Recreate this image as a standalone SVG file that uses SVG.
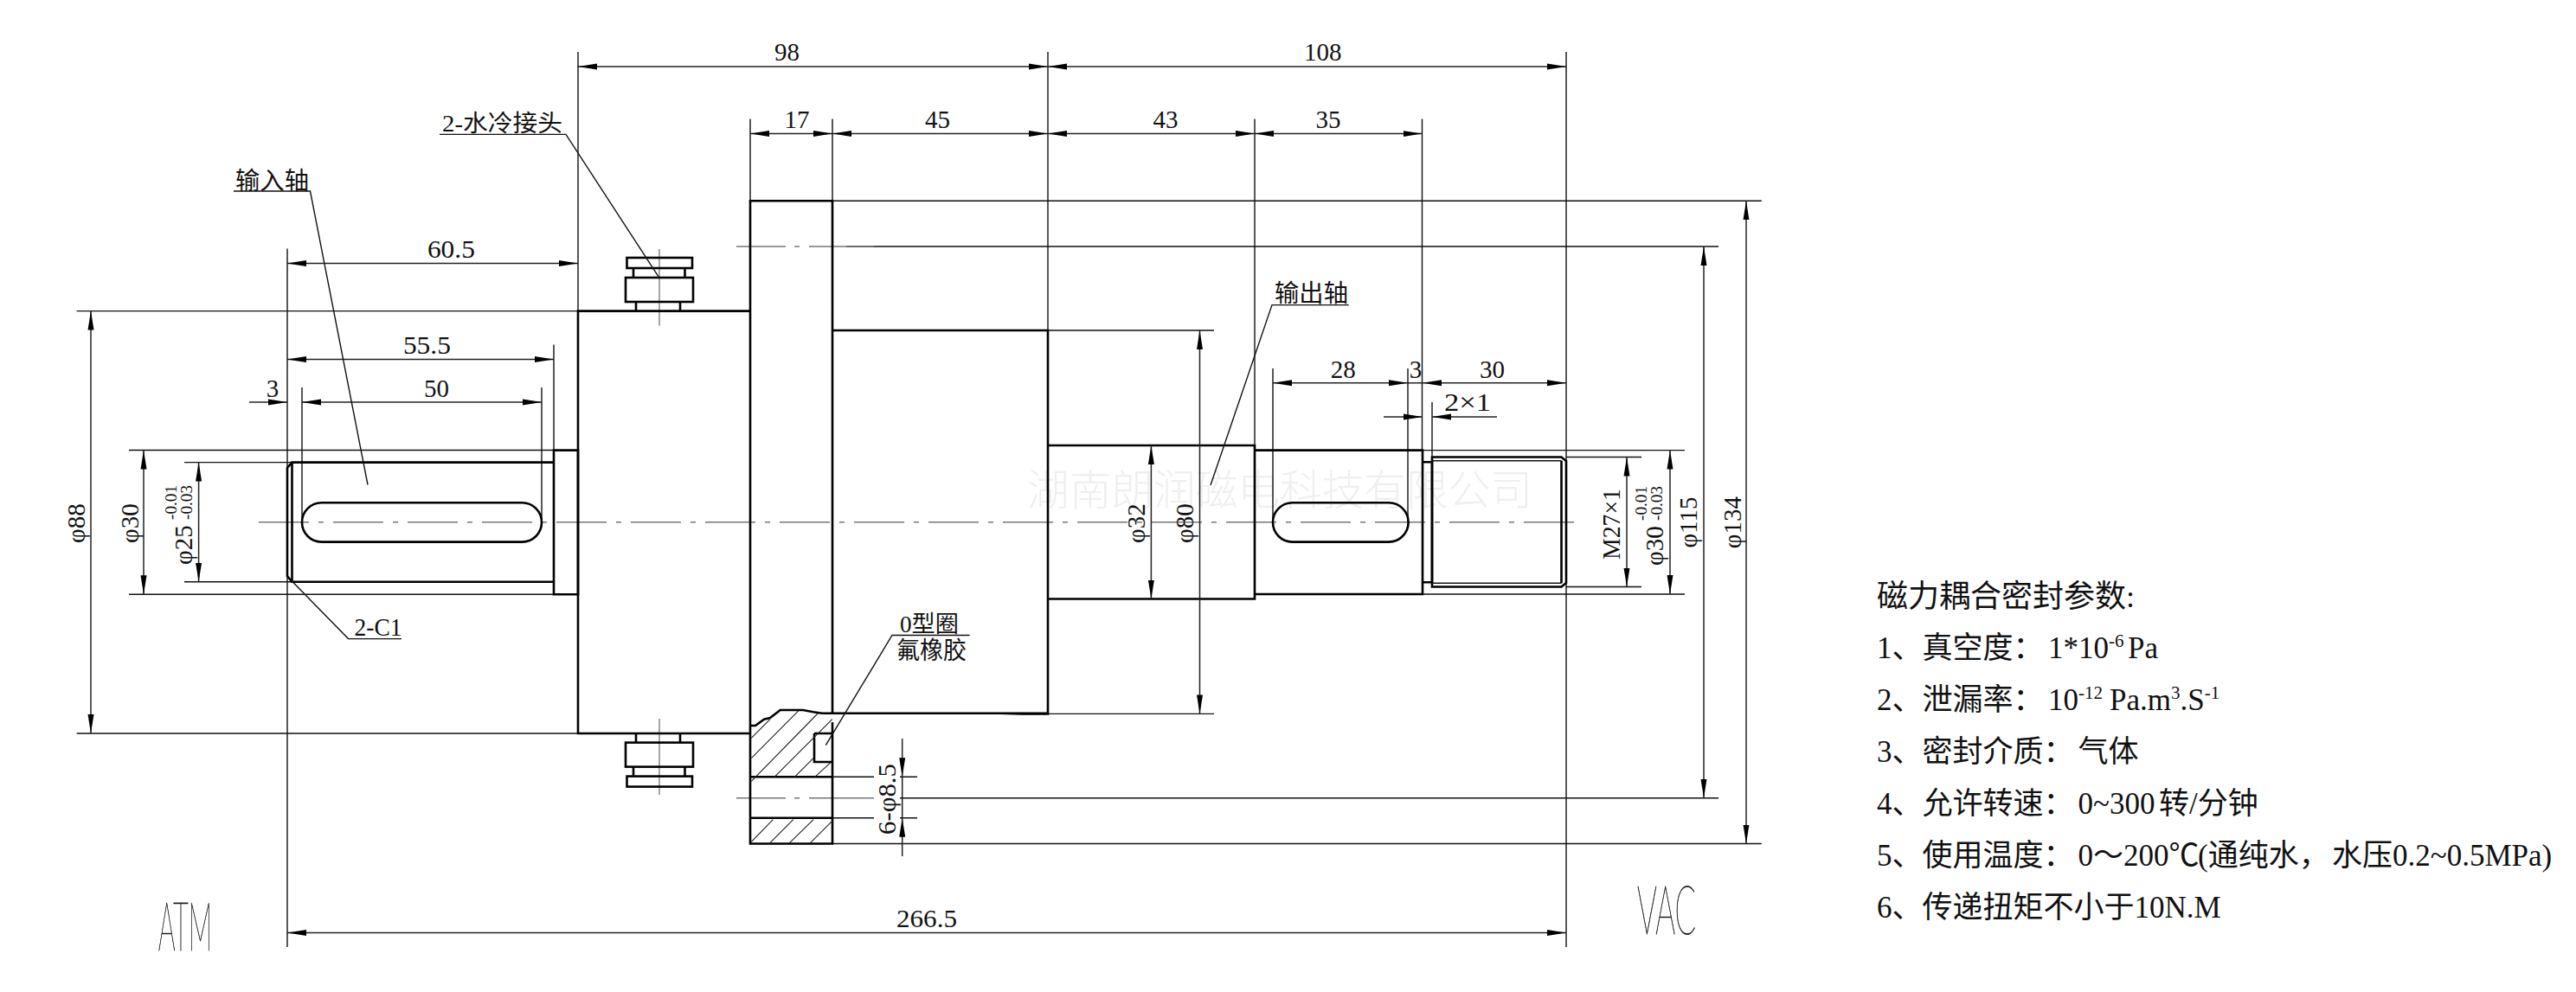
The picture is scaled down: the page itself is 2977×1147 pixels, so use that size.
<svg xmlns="http://www.w3.org/2000/svg" width="2977" height="1147" viewBox="0 0 2977 1147">
<style>
text{font-family:"Liberation Serif","Noto Sans CJK SC",serif;fill:#111}
.d{font-size:29px;text-anchor:middle}
.s{font-size:19px;text-anchor:middle}
.note{font-size:35px}
.sup{font-size:21px}
.big{font-family:Lato,"Liberation Sans",sans-serif;font-weight:100;font-size:78px;fill:#222;stroke:#222;stroke-width:.9}
.wm{font-family:"Noto Sans CJK SC",sans-serif;font-size:48.6px;fill:#efefef;font-weight:300}
.k{fill:none;stroke:#000;stroke-width:2.6;stroke-linejoin:miter}
.th{fill:none;stroke:#111;stroke-width:1.4}
.h{fill:none;stroke:#222;stroke-width:1.1}
.c{fill:none;stroke:#777;stroke-width:1.6;stroke-dasharray:58 11 6 11}
.cs{fill:none;stroke:#888;stroke-width:1.5}
.dim{fill:none;stroke:#222;stroke-width:1.5;marker-start:url(#a);marker-end:url(#a)}
.one{fill:none;stroke:#222;stroke-width:1.5;marker-end:url(#a)}
</style>
<defs>
<marker id="a" markerUnits="userSpaceOnUse" markerWidth="24" markerHeight="8" refX="22" refY="4" orient="auto-start-reverse"><path d="M0,.5L22,4L0,7.5Z" fill="#000"/></marker>
<g id="fit">
<rect x="724.5" y="298" width="75.5" height="12"/>
<path d="M732,310V321M791.5,310V321"/>
<rect x="723" y="321" width="78" height="28"/>
<path d="M735,349V359M786,349V359"/>
</g>
</defs>
<text class="wm" x="1187" y="584" textLength="584" lengthAdjust="spacingAndGlyphs">湖南朗润磁电科技有限公司</text>

<g id="extensions" class="th">
<path d="M668,60V359.6M1211,60V515M1810,60V1095M332,287.5V1095M867,137.6V232M962,137.6V232M1450,137.6V520M1643.5,137.6V520"/>
<path d="M349,448V603M626,448V603M640,398.5V520M1471,426V603M1627,426V603M1655,465V529"/>
<path d="M88.7,359.6H668M88.7,848H668M149,520.5H640M149,687.3H640M213,534.6H337M213,672.7H337"/>
<path d="M962,232.3H2035.8M962,975.5H2035.8M978,285H1986M1040,922.8H1986"/>
<path d="M1211,382H1403M1211,825.4H1403M1644,520.6H1947M1644,687H1947M1810,528.5H1897M1810,678.5H1897"/>
<path d="M962,898.3H1010M1040,898.3H1060M962,945.7H1010M1040,945.7H1060"/>
</g>

<g id="centerlines">
<path class="c" d="M299,603.8H1828"/>
<path class="c" style="stroke-dasharray:57 10 6 11 80" d="M851,285H1010"/>
<path class="c" style="stroke-dasharray:57 10 6 11 80" d="M851,922.8H1010"/>
<path class="cs" d="M762,288V376.6M762,831V919"/>
</g>

<g id="body">
<path class="k" d="M668,359.6H867V848H668ZM867,232.3H962V975.5H867Z"/>
<path class="k" d="M962,382H1211V825.4H962"/>
<path class="k" d="M1211,515H1450V692.5H1211M1450,520.6H1644V687H1450M1644,534.3H1655V673.3H1644"/>
<path class="k" d="M1655,528.5H1804.5L1810,533V674L1804.5,678.5H1655ZM1804.5,532.7V674.3"/>
<path class="th" d="M1655,532.7H1804.5M1655,674.3H1804.5"/>
<path class="k" d="M640,520.6H668V687.3H640ZM337.5,534.6H640V672.7H337.5ZM337.5,534.6L332,541V666L337.5,672.7"/>
<rect class="k" x="349" y="581.3" width="277" height="45.3" rx="22.6"/>
<rect class="k" x="1471" y="581.3" width="156.6" height="45.3" rx="22.6"/>
</g>

<g id="flange-section">
<path class="k" style="fill:#fff" d="M867,839H873L883,831.7L890,830L901.7,821H928L940,823.3L950,824.7H1211"/>
<path class="k" d="M941,848V881H962M941,848H962M867,898.3H962M867,945.7H962"/>
<path class="h" d="M868.3,853.3L890,831.7M868.3,876.7L923,821.7M868.3,903.3L945,825M895,898.3L961.7,831.7M918.3,898.3L940,876.7M941.7,898.3L960,881.7M868.3,973.3L893.3,947.7M890,974.3L916.7,947.7M912.7,974.3L940,947.7M936.7,974.3L961.7,949.3"/>
</g>

<g id="fitting-top" class="k"><use href="#fit"/></g>
<g id="fitting-bottom" class="k"><use href="#fit" transform="translate(0,1207.6) scale(1,-1)"/></g>

<g id="dimensions">
<path class="dim" d="M668,77H1211"/>
<path class="dim" d="M1211,77H1810"/>
<path class="dim" d="M867,154.6H962"/>
<path class="dim" d="M962,154.6H1211"/>
<path class="dim" d="M1211,154.6H1450"/>
<path class="dim" d="M1450,154.6H1643.5"/>
<path class="dim" d="M332,304.5H668"/>
<path class="dim" d="M332,415.5H640"/>
<path class="dim" d="M349,465H626"/>
<path class="one" d="M288,465H332"/>
<path class="dim" d="M1471,442.8H1627"/>
<path class="th" d="M1627,442.8H1644"/>
<path class="dim" d="M1644,442.8H1810"/>
<path class="one" d="M1599,482H1644"/>
<path class="one" d="M1730,482H1655"/>
<path class="dim" d="M332,1078.5H1810"/>
<path class="dim" d="M105,359.6V848"/>
<path class="dim" d="M166,520.5V687.3"/>
<path class="dim" d="M229.6,534.6V672.7"/>
<path class="dim" d="M1330.4,515V692.5"/>
<path class="dim" d="M1386.5,382V825.4"/>
<path class="dim" d="M1880,528.5V678.5"/>
<path class="dim" d="M1930,520.6V687"/>
<path class="dim" d="M1969,285V922.8"/>
<path class="dim" d="M2018,232.3V975.5"/>
<path class="one" d="M1042.7,854V898.3"/>
<path class="one" d="M1042.7,990V945.7"/>
<path class="th" d="M1042.7,898.3V945.7"/>
</g>

<g id="leaders" class="th">
<path d="M270,221H358.5L425,560.5"/>
<path d="M508,155.4H654L761.5,320.7"/>
<path d="M334,668.6L402.5,738.6H464"/>
<path d="M954.3,861.7L1031,734.5H1120.6"/>
<path d="M1558.7,352.6H1470L1399,561"/>
</g>

<g id="labels">
<text class="d" x="909.5" y="70">98</text>
<text class="d" x="1528.7" y="70">108</text>
<text class="d" x="921" y="148">17</text>
<text class="d" x="1083.6" y="148">45</text>
<text class="d" x="1347" y="148">43</text>
<text class="d" x="1535" y="148">35</text>
<text class="d" x="521.4" y="297.8" textLength="55" lengthAdjust="spacingAndGlyphs">60.5</text>
<text class="d" x="493.4" y="408.8" textLength="55" lengthAdjust="spacingAndGlyphs">55.5</text>
<text class="d" x="315" y="458.8">3</text>
<text class="d" x="504.5" y="458.8">50</text>
<text class="d" x="1552.3" y="436.5">28</text>
<text class="d" x="1636" y="436.5">3</text>
<text class="d" x="1724.5" y="436.5">30</text>
<text class="d" x="1696" y="475" textLength="54" lengthAdjust="spacingAndGlyphs">2×1</text>
<text class="d" x="1071" y="1072" textLength="70" lengthAdjust="spacingAndGlyphs">266.5</text>
<text class="d" x="437" y="735" textLength="55" lengthAdjust="spacingAndGlyphs">2-C1</text>
<text class="d" x="511" y="152" style="font-size:27px;text-anchor:start" textLength="139" lengthAdjust="spacingAndGlyphs">2-水冷接头</text>
<text class="d" x="272" y="219" style="font-size:28px;text-anchor:start" textLength="85" lengthAdjust="spacingAndGlyphs">输入轴</text>
<text class="d" x="1473" y="349" style="font-size:28px;text-anchor:start" textLength="85" lengthAdjust="spacingAndGlyphs">输出轴</text>
<text class="d" x="1040" y="731" style="font-size:27px;text-anchor:start" textLength="68" lengthAdjust="spacingAndGlyphs">0型圈</text>
<text class="d" x="1036" y="762" style="font-size:28px;text-anchor:start" textLength="81" lengthAdjust="spacingAndGlyphs">氟橡胶</text>
<text class="d" transform="translate(98,605) rotate(-90)">φ88</text>
<text class="d" transform="translate(160,605) rotate(-90)">φ30</text>
<text class="d" transform="translate(222,630) rotate(-90)">φ25</text>
<text class="s" transform="translate(203.5,581) rotate(-90)" textLength="40" lengthAdjust="spacingAndGlyphs">-0.01</text>
<text class="s" transform="translate(222,581) rotate(-90)" textLength="40" lengthAdjust="spacingAndGlyphs">-0.03</text>
<text class="d" transform="translate(1323,605) rotate(-90)">φ32</text>
<text class="d" transform="translate(1379,605) rotate(-90)">φ80</text>
<text class="d" transform="translate(1872,606) rotate(-90)" textLength="82" lengthAdjust="spacingAndGlyphs">M27×1</text>
<text class="d" transform="translate(1922,631) rotate(-90)">φ30</text>
<text class="s" transform="translate(1903,582) rotate(-90)" textLength="40" lengthAdjust="spacingAndGlyphs">-0.01</text>
<text class="s" transform="translate(1921,582) rotate(-90)" textLength="40" lengthAdjust="spacingAndGlyphs">-0.03</text>
<text class="d" transform="translate(1961,604) rotate(-90)">φ115</text>
<text class="d" transform="translate(2012,604) rotate(-90)">φ134</text>
<text class="d" transform="translate(1035,924) rotate(-90)" textLength="82" lengthAdjust="spacingAndGlyphs">6-φ8.5</text>
<text class="big" x="183" y="1099" textLength="62" lengthAdjust="spacingAndGlyphs">ATM</text>
<text class="big" x="1892" y="1080" textLength="68" lengthAdjust="spacingAndGlyphs">VAC</text>
</g>

<g id="notes">
<text class="note" x="2169" y="702" style="font-size:36px">磁力耦合密封参数:</text>
<text class="note" x="2169" y="761">1、真空度：<tspan x="2367">1*10</tspan><tspan class="sup" dy="-13">-6</tspan><tspan x="2459" dy="13">Pa</tspan></text>
<text class="note" x="2169" y="821">2、泄漏率：<tspan x="2367">10</tspan><tspan class="sup" dy="-13">-12</tspan><tspan x="2438" dy="13">Pa.m</tspan><tspan class="sup" dy="-13">3</tspan><tspan dy="13">.S</tspan><tspan class="sup" dy="-13">-1</tspan></text>
<text class="note" x="2169" y="881">3、密封介质：<tspan x="2401.6">气体</tspan></text>
<text class="note" x="2169" y="941">4、允许转速：<tspan x="2401.6">0~300</tspan><tspan x="2495">转/分钟</tspan></text>
<text class="note" x="2169" y="1001">5、使用温度：<tspan x="2401.6">0～200℃</tspan><tspan x="2540">(通纯水，</tspan><tspan x="2695">水压0.2~0.5MPa)</tspan></text>
<text class="note" x="2169" y="1061">6、传递扭矩不小于10N.M</text>
</g>
</svg>
